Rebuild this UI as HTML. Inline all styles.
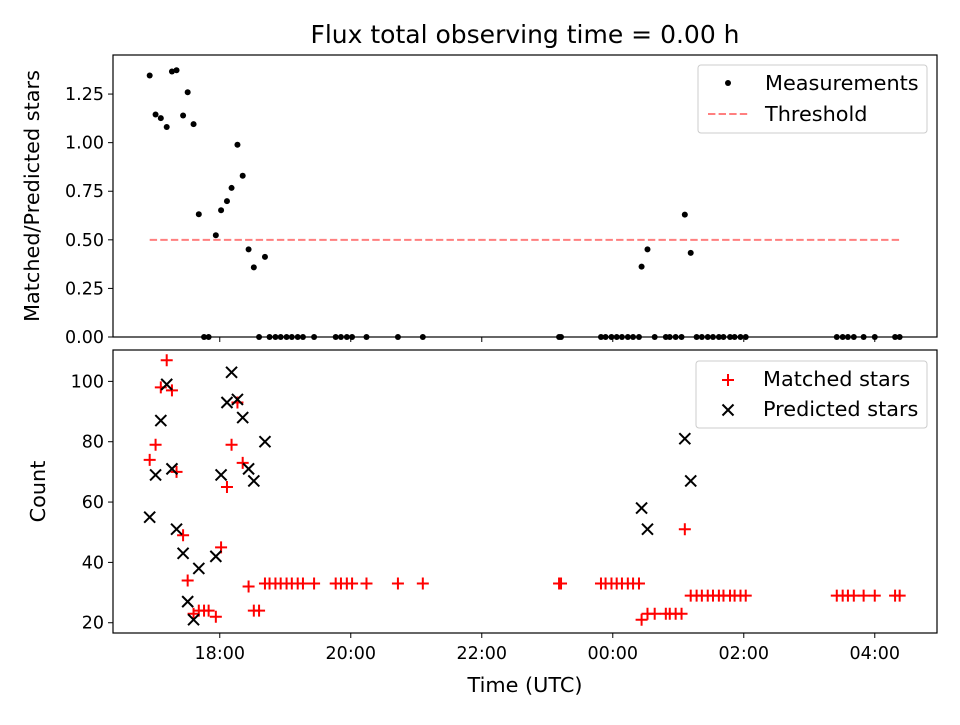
<!DOCTYPE html>
<html><head><meta charset="utf-8"><style>
body{margin:0;background:#fff}
svg text{font-family:"DejaVu Sans","Liberation Sans",sans-serif;fill:#000}
</style></head><body>
<svg id="c" width="960" height="720" xmlns="http://www.w3.org/2000/svg"></svg>
<script>
const times=[16.93,17.02,17.10,17.19,17.27,17.34,17.44,17.51,17.60,17.68,17.76,17.83,17.94,18.02,18.11,18.18,18.27,18.35,18.44,18.52,18.60,18.69,18.76,18.85,18.93,19.02,19.10,19.19,19.27,19.44,19.77,19.85,19.94,20.02,20.24,20.72,21.10,23.18,23.21,23.82,23.89,23.98,24.06,24.14,24.23,24.31,24.40,24.44,24.53,24.64,24.81,24.87,24.96,25.05,25.10,25.19,25.28,25.36,25.45,25.53,25.62,25.69,25.79,25.86,25.95,26.03,27.42,27.51,27.59,27.68,27.83,28.00,28.31,28.38];
const matched=[74,79,98,107,97,70,49,34,23,24,24,24,22,45,65,79,93,73,32,24,24,33,33,33,33,33,33,33,33,33,33,33,33,33,33,33,33,33,33,33,33,33,33,33,33,33,33,21,23,23,23,23,23,23,51,29,29,29,29,29,29,29,29,29,29,29,29,29,29,29,29,29,29,29];
const predicted=[55,69,87,99,71,51,43,27,21,38,null,null,42,69,93,103,94,88,71,67,null,80,null,null,null,null,null,null,null,null,null,null,null,null,null,null,null,null,null,null,null,null,null,null,null,null,null,58,51,null,null,null,null,null,81,67,null,null,null,null,null,null,null,null,null,null,null,null,null,null,null,null,null,null];
const threshold=0.5;
const xTicks=[18,20,22,24,26,28];
const xTickLabels=["18:00","20:00","22:00","00:00","02:00","04:00"];
const topTicks=[0,0.25,0.5,0.75,1.0,1.25];
const botTicks=[20,40,60,80,100];

const svg=document.getElementById('c');
const NS='http://www.w3.org/2000/svg';
function mk(tag,attrs,parent){const e=document.createElementNS(NS,tag);for(const k in attrs)e.setAttribute(k,attrs[k]);(parent||svg).appendChild(e);return e;}
const L=113,R=937,T1=55,B1=337,T2=350,B2=633;
const FL=20.8, FK=17.5;
const x=h=>L+(h-16.37)/(28.95-16.37)*(R-L);
const y1=v=>B1-v/1.451*(B1-T1);
const y2=v=>B2-(v-16.6)/(110.4-16.6)*(B2-T2);

let t=mk('text',{x:525,y:43,'font-size':25,'text-anchor':'middle'});t.textContent='Flux total observing time = 0.00 h';



const g1=mk('g',{});


const ratio=matched.map((m,i)=>predicted[i]?m/predicted[i]:0);
let ln=mk('line',{x1:x(times[0]),x2:x(times[times.length-1]),y1:y1(threshold),y2:y1(threshold),stroke:'#ff7f7f','stroke-width':2,'stroke-dasharray':'7.4,3.2'},g1);


ratio.forEach((r,i)=>{const c=mk('circle',{cx:x(times[i]),cy:y1(r),r:3,fill:'#000'},g1);

});
mk('rect',{x:L,y:T1,width:R-L,height:B1-T1,fill:'none',stroke:'#000','stroke-width':1.2},g1);
topTicks.forEach(v=>{mk('line',{x1:L-5,x2:L,y1:y1(v),y2:y1(v),stroke:'#000'},g1);
const tt=mk('text',{x:L-9,y:y1(v)+6,'font-size':FK,'text-anchor':'end'},g1);tt.textContent=v.toFixed(2);

});
xTicks.forEach(h=>mk('line',{x1:x(h),x2:x(h),y1:B1,y2:B1+5,stroke:'#000'},g1));
t=mk('text',{x:0,y:0,'font-size':FL,'text-anchor':'middle',transform:`translate(39,${(T1+B1)/2}) rotate(-90)`},g1);t.textContent='Matched/Predicted stars';


const lg1=mk('g',{});


mk('rect',{x:698,y:65,width:229,height:68,rx:3,fill:'#fff',stroke:'#ccc'},lg1);
mk('circle',{cx:728,cy:83,r:3,fill:'#000'},lg1);
t=mk('text',{x:765,y:90,'font-size':FL},lg1);t.textContent='Measurements';
mk('line',{x1:708,x2:748,y1:114,y2:114,stroke:'#ff7f7f','stroke-width':2,'stroke-dasharray':'7.4,3.2'},lg1);
t=mk('text',{x:765,y:121,'font-size':FL},lg1);t.textContent='Threshold';

const g2=mk('g',{});


function plus(cx,cy,g,col){return mk('path',{d:`M${cx-6},${cy}H${cx+6}M${cx},${cy-6}V${cy+6}`,stroke:col,'stroke-width':2,fill:'none'},g);}
function cross(cx,cy,g){return mk('path',{d:`M${cx-5.5},${cy-5.5}L${cx+5.5},${cy+5.5}M${cx-5.5},${cy+5.5}L${cx+5.5},${cy-5.5}`,stroke:'#000','stroke-width':2,fill:'none'},g);}
matched.forEach((m,i)=>{const p=plus(x(times[i]),y2(m),g2,'red');

});
predicted.forEach((v,i)=>{if(v==null)return;const p=cross(x(times[i]),y2(v),g2);

});
mk('rect',{x:L,y:T2,width:R-L,height:B2-T2,fill:'none',stroke:'#000','stroke-width':1.2},g2);
botTicks.forEach(v=>{mk('line',{x1:L-5,x2:L,y1:y2(v),y2:y2(v),stroke:'#000'},g2);
const tt=mk('text',{x:L-9,y:y2(v)+6,'font-size':FK,'text-anchor':'end'},g2);tt.textContent=v;

});
xTicks.forEach((h,i)=>{mk('line',{x1:x(h),x2:x(h),y1:B2,y2:B2+5,stroke:'#000'},g2);
const tt=mk('text',{x:x(h),y:B2+26,'font-size':FK,'text-anchor':'middle'},g2);tt.textContent=xTickLabels[i];

});
t=mk('text',{x:525,y:692,'font-size':FL,'text-anchor':'middle'},g2);t.textContent='Time (UTC)';


t=mk('text',{x:0,y:0,'font-size':FL,'text-anchor':'middle',transform:`translate(45,${(T2+B2)/2}) rotate(-90)`},g2);t.textContent='Count';


const lg2=mk('g',{});


mk('rect',{x:696,y:361,width:231,height:67,rx:3,fill:'#fff',stroke:'#ccc'},lg2);
plus(728,380,lg2,'red');
t=mk('text',{x:763,y:386,'font-size':FL},lg2);t.textContent='Matched stars';
cross(728,410,lg2);
t=mk('text',{x:763,y:416,'font-size':FL},lg2);t.textContent='Predicted stars';
</script>
</body></html>
